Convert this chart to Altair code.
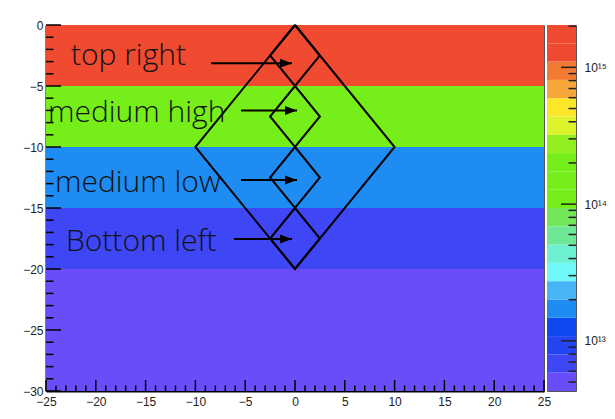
import altair as alt
import numpy as np
import pandas as pd

# ---- histogram content: five horizontal bands spanning the full x range ----
x_min, x_max = -25, 25
y_min, y_max = -30, 0
band_top = [0, -5, -10, -15, -20]
band_bottom = [-5, -10, -15, -20, -30]
band_value = [1.6e15, 2.0e14, 1.8e13, 7.0e12, 4.5e12]

# ---- z colour palette (20 contour levels, bottom to top) ----
z_min, z_max = 4.3e12, 2.04e15
palette = ["#6a4cf8", "#3e46f5", "#2446f2", "#0e48ef", "#1e8cf2",
           "#46b4f5", "#6ef8fa", "#6ef0d2", "#6ee896", "#74e65a",
           "#76ee1a", "#76ee1a", "#76ee1a", "#92ee1e", "#dcf22a",
           "#fce62a", "#f6a63a", "#f27a32", "#f04a31", "#f04a31"]

# ---- overlay drawing: one large diamond and four small stacked diamonds ----
shape_id = ["outer"] * 5 + ["d1"] * 5 + ["d2"] * 5 + ["d3"] * 5 + ["d4"] * 5
shape_x = [0, 10, 0, -10, 0,
           0, 2.5, 0, -2.5, 0,
           0, 2.5, 0, -2.5, 0,
           0, 2.5, 0, -2.5, 0,
           0, 2.5, 0, -2.5, 0]
shape_y = [0, -10, -20, -10, 0,
           0, -2.5, -5, -2.5, 0,
           -5, -7.5, -10, -7.5, -5,
           -10, -12.5, -15, -12.5, -10,
           -15, -17.5, -20, -17.5, -15]

# ---- annotations ----
labels = ["top right", "medium high", "medium low", "Bottom left"]
label_x = [-22.5, -24.8, -24.1, -23.0]
label_y = [-3.28, -7.93, -13.66, -18.5]
arrow_y = [-3.14, -7.0, -12.7, -17.54]
arrow_x0 = [-8.43, -5.42, -5.42, -6.12]
arrow_x1 = [-0.3, 0.2, 0.2, -0.3]

# ---- axis ticks ----
x_major = [-25, -20, -15, -10, -5, 0, 5, 10, 15, 20, 25]
x_minor = [v for v in range(-24, 25) if v % 5 != 0]
y_major = [0, -5, -10, -15, -20, -25, -30]
y_minor = [v for v in range(-29, 0) if v % 5 != 0]
cb_major = [1e13, 1e14, 1e15]
cb_minor = [m * 10.0 ** e for e in (12, 13, 14, 15) for m in range(2, 10)
            if z_min <= m * 10.0 ** e <= z_max]

W, H = 498, 366
CB_W = 29
FONT = "Liberation Sans"

edges = np.logspace(np.log10(z_min), np.log10(z_max), len(palette) + 1)
color_scale = alt.Scale(type="threshold", domain=list(edges[1:-1]), range=palette)

xs = alt.Scale(domain=[x_min, x_max], nice=False, zero=False)
ys = alt.Scale(domain=[y_min, y_max], nice=False, zero=False)

bands = pd.DataFrame({"x0": x_min, "x1": x_max, "top": band_top,
                      "bottom": band_bottom, "z": band_value})
shapes = pd.DataFrame({"id": shape_id, "x": shape_x, "y": shape_y,
                       "i": list(range(len(shape_x)))})
texts = pd.DataFrame({"label": labels, "x": label_x, "y": label_y})
arrows = pd.DataFrame({"y": arrow_y, "x0": arrow_x0, "x1": arrow_x1})

xaxis = alt.Axis(values=x_major, ticks=False, labelPadding=5, labelFontSize=12,
                 labelColor="#222", labelFont=FONT, domainColor="black",
                 domainWidth=2, grid=False, title=None, labelFlush=False)
yaxis = alt.Axis(values=y_major, ticks=False, labelPadding=3, labelFontSize=12,
                 labelColor="#222", labelFont=FONT, domainColor="black",
                 domainWidth=2, grid=False, title=None, labelFlush=False)

heat = alt.Chart(bands).mark_rect().encode(
    x=alt.X("x0:Q", scale=xs, axis=xaxis), x2="x1:Q",
    y=alt.Y("top:Q", scale=ys, axis=yaxis), y2="bottom:Q",
    color=alt.Color("z:Q", scale=color_scale, legend=None),
)

diamonds = alt.Chart(shapes).mark_line(color="black", strokeWidth=2).encode(
    x=alt.X("x:Q", scale=xs), y=alt.Y("y:Q", scale=ys),
    detail="id:N", order="i:Q",
)

arrow_lines = alt.Chart(arrows).mark_rule(color="black", strokeWidth=2).encode(
    x=alt.X("x0:Q", scale=xs), x2="x1:Q", y=alt.Y("y:Q", scale=ys),
)
arrow_heads = alt.Chart(arrows).mark_point(
    shape="M -1 -0.375 L 0 0 L -1 0.375 Z", size=576, filled=True,
    color="black", opacity=1,
).encode(x=alt.X("x1:Q", scale=xs), y=alt.Y("y:Q", scale=ys))

text = alt.Chart(texts).mark_text(
    align="left", baseline="alphabetic", font="Open Sans", fontSize=30,
    fontWeight=300, color="#111",
).encode(x=alt.X("x:Q", scale=xs), y=alt.Y("y:Q", scale=ys), text="label:N")

tick_style = dict(color="black", strokeWidth=1.5)
y_major_ticks = alt.Chart(pd.DataFrame({"v": y_major})).mark_rule(**tick_style).encode(
    y=alt.Y("v:Q", scale=ys), x=alt.value(0), x2=alt.value(15))
y_minor_ticks = alt.Chart(pd.DataFrame({"v": y_minor})).mark_rule(**tick_style).encode(
    y=alt.Y("v:Q", scale=ys), x=alt.value(0), x2=alt.value(7.5))
x_major_ticks = alt.Chart(pd.DataFrame({"v": x_major})).mark_rule(**tick_style).encode(
    x=alt.X("v:Q", scale=xs), y=alt.value(H), y2=alt.value(H - 11))
x_minor_ticks = alt.Chart(pd.DataFrame({"v": x_minor})).mark_rule(**tick_style).encode(
    x=alt.X("v:Q", scale=xs), y=alt.value(H), y2=alt.value(H - 5.5))

main = alt.layer(
    heat, diamonds, arrow_lines, arrow_heads, text,
    y_major_ticks, y_minor_ticks, x_major_ticks, x_minor_ticks,
).properties(width=W, height=H)

# ---- colour bar on a log z scale ----
cb = pd.DataFrame({"lo": edges[:-1], "hi": edges[1:], "c": palette})
zs = alt.Scale(type="log", domain=[z_min, z_max], nice=False)
cb_axis = alt.Axis(
    orient="right", values=cb_major, ticks=False, domain=False, grid=False,
    labelPadding=8, labelFontSize=12, labelColor="#222", labelFont=FONT,
    title=None,
    labelExpr="datum.value > 5e14 ? '10¹⁵' : datum.value > 5e13 ? '10¹⁴' : '10¹³'",
)
cb_rect = alt.Chart(cb).mark_rect().encode(
    y=alt.Y("lo:Q", scale=zs, axis=cb_axis), y2="hi:Q",
    x=alt.value(0), x2=alt.value(CB_W),
    fill=alt.Fill("c:N", scale=None),
)
cb_major_ticks = alt.Chart(pd.DataFrame({"v": cb_major})).mark_rule(color="#222", strokeWidth=1.5).encode(
    y=alt.Y("v:Q", scale=zs), x=alt.value(CB_W), x2=alt.value(CB_W - 15))
cb_minor_ticks = alt.Chart(pd.DataFrame({"v": cb_minor})).mark_rule(color="#222", strokeWidth=1.5).encode(
    y=alt.Y("v:Q", scale=zs), x=alt.value(CB_W), x2=alt.value(CB_W - 7.5))

colorbar = alt.layer(cb_rect, cb_major_ticks, cb_minor_ticks).properties(
    width=CB_W, height=H)

chart = alt.hconcat(main, colorbar, spacing=3, bounds="flush").properties(
    padding={"left": 22, "top": 18, "right": 5, "bottom": 5},
    background="white",
).configure_view(stroke="#555", strokeWidth=1)

chart.save("out.html", embed_options={"renderer": "svg", "actions": False})
